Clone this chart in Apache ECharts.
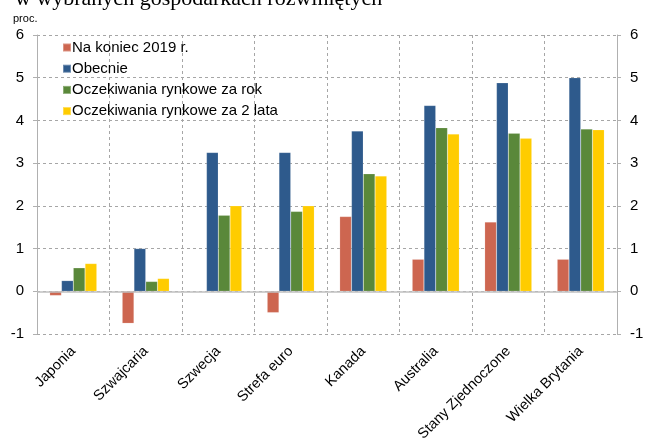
<!DOCTYPE html>
<html><head><meta charset="utf-8">
<script src="https://cdn.jsdelivr.net/npm/echarts@6/dist/echarts.min.js"></script>
<style>html,body{margin:0;padding:0;background:#fff}#c{width:650px;height:440px}</style>
</head><body><div id="c"></div>
<script>
var categories = ['Japonia','Szwajcaria','Szwecja','Strefa euro','Kanada','Australia','Stany Zjednoczone','Wielka Brytania'];
var naKoniec2019 = [-0.1, -0.75, 0, -0.5, 1.75, 0.75, 1.62, 0.75];
var obecnie = [0.25, 1.0, 3.25, 3.25, 3.75, 4.35, 4.88, 5.0];
var zaRok = [0.55, 0.23, 1.78, 1.87, 2.75, 3.83, 3.7, 3.8];
var za2Lata = [0.65, 0.3, 2.0, 2.0, 2.7, 3.68, 3.58, 3.78];
var seriesNames = ['Na koniec 2019 r.','Obecnie','Oczekiwania rynkowe za rok','Oczekiwania rynkowe za 2 lata'];
var colors = ['#CD6650','#2E5A8C','#5A883A','#FFCC00'];
var seriesData = [naKoniec2019, obecnie, zaRok, za2Lata];

var chart = echarts.init(document.getElementById('c'));
var font = 'Liberation Sans, Arial, sans-serif';
var yAxisBase = {
  type: 'value', min: -1, max: 6, interval: 1,
  axisLine: {show: true, lineStyle: {color: '#B0B0B0', width: 1}},
  axisTick: {show: true, length: 4, lineStyle: {color: '#B0B0B0'}},
  axisLabel: {color: '#000', fontSize: 15, fontFamily: font, margin: 13}
};
var series = seriesData.map(function(d, i){
  var s = {
    name: seriesNames[i], type: 'bar', data: d,
    barGap: '0%', barCategoryGap: '35%',
    itemStyle: {color: colors[i], borderColor: 'rgba(255,255,255,0.3)', borderWidth: 0.5},
    emphasis: {disabled: true}
  };
  if (i === 0) {
    s.markLine = {silent: true, symbol: ['none','none'], label: {show: false},
      lineStyle: {color: '#BFBFBF', width: 1.5, type: 'solid'},
      data: [{yAxis: 0}], animation: false};
  }
  return s;
});
chart.setOption({
  animation: false,
  title: {text: 'w wybranych gospodarkach rozwiniętych', left: 10, top: -17,
    textStyle: {fontFamily: 'Liberation Serif, Times New Roman, serif', fontSize: 22, fontWeight: 'normal', color: '#000'}},
  graphic: [{type: 'text', left: 13, top: 13, style: {text: 'proc.', font: '11px ' + font, fill: '#000'}}],
  legend: {
    orient: 'vertical', left: 57, top: 35, itemWidth: 8, itemHeight: 8, itemGap: 6.2,
    icon: 'rect', textStyle: {fontSize: 15, fontFamily: font, color: '#000', padding: [0,0,0,-4]},
    data: seriesNames
  },
  grid: {left: 37, right: 33, top: 35, bottom: 106, containLabel: false, outerBoundsMode: 'none'},
  xAxis: {
    type: 'category', data: categories,
    axisLine: {show: false, onZero: false},
    axisTick: {show: false},
    splitLine: {show: true, lineStyle: {color: '#A6A6A6', type: [3,3], width: 1}},
    axisLabel: {rotate: 45, interval: 0, color: '#000', fontSize: 14.5, fontFamily: font, margin: 15}
  },
  yAxis: [
    Object.assign({}, yAxisBase, {position: 'left', splitLine: {show: true, lineStyle: {color: '#A6A6A6', type: [3,3], width: 1}}}),
    Object.assign({}, yAxisBase, {position: 'right', splitLine: {show: false}})
  ],
  series: series
});
</script></body></html>
